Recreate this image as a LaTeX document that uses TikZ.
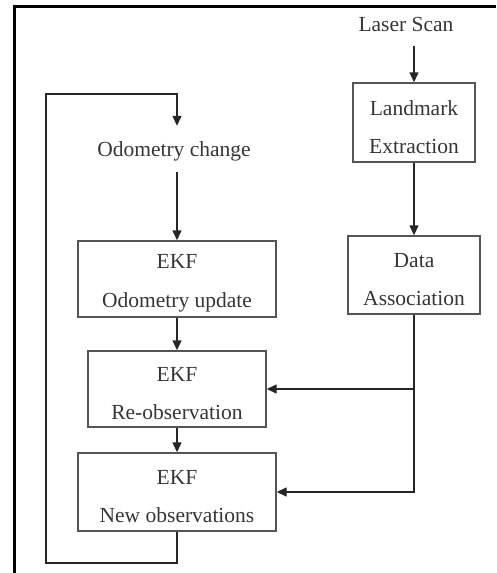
\documentclass[tikz,border=0pt]{standalone}
\usepackage{fontspec}
\setmainfont{Liberation Serif}
\usetikzlibrary{arrows.meta}
\definecolor{txt}{HTML}{353535}
\definecolor{ln}{HTML}{555555}
\tikzset{
  x=1pt,y=1pt,
  lbl/.style={font=\fontsize{21.5}{38.5}\selectfont, text=txt, align=center, inner sep=0pt},
  stepbox/.style={draw=ln, line width=1.4pt, inner sep=0pt,
    label={[lbl,yshift=-4.5pt]center:{#1}}},
  plainlbl/.style={inner sep=0pt, label={[lbl,yshift=-2.5pt]center:{#1}}},
  conn/.style={draw=ln, line width=1.4pt},
  arr/.style={conn, -{Triangle[length=10pt,width=9pt]}, color=black!85}
}
\begin{document}
\begin{tikzpicture}
\useasboundingbox (0,0) rectangle (496,-573);
% frame (cropped)
\draw[black, line width=3pt] (14,-573) -- (14,-6) -- (496,-6);

\node[lbl, minimum height=44pt] (laser) at (406,-24) {Laser Scan};
\node[stepbox={Landmark\\Extraction}, minimum width=122pt, minimum height=79pt] (land) at (414,-122.5) {};
\node[stepbox={Data\\Association}, minimum width=132pt, minimum height=78pt] (data) at (414,-275) {};
\node[plainlbl={Odometry change}, minimum width=155pt, minimum height=46pt] (odo) at (174,-149) {};
\node[stepbox={EKF\\Odometry update}, minimum width=198pt, minimum height=76pt] (upd) at (177,-279) {};
\node[stepbox={EKF\\Re-observation}, minimum width=178pt, minimum height=76pt] (reobs) at (177,-389) {};
\node[stepbox={EKF\\New observations}, minimum width=198pt, minimum height=78pt] (newobs) at (177,-492) {};

\coordinate (lp1) at (177,-563);
\coordinate (lp2) at (46,-563);
\coordinate (lp3) at (46,-94);
\coordinate (lp4) at (177,-94);

\draw[arr] (laser.south -| land.north) -- (land.north);
\draw[arr] (land.south) -- (data.north);
\draw[arr] (odo.south -| upd.north) -- (upd.north);
\draw[arr] (upd.south) -- (reobs.north);
\draw[arr] (reobs.south) -- (newobs.north);
\draw[arr] (data.south) |- (reobs.east);
\draw[arr] (data.south) |- (newobs.east);
\draw[arr] (newobs.south) -- (lp1) -- (lp2) -- (lp3) -- (lp4) -- (odo.north -| lp4);
\end{tikzpicture}
\end{document}
